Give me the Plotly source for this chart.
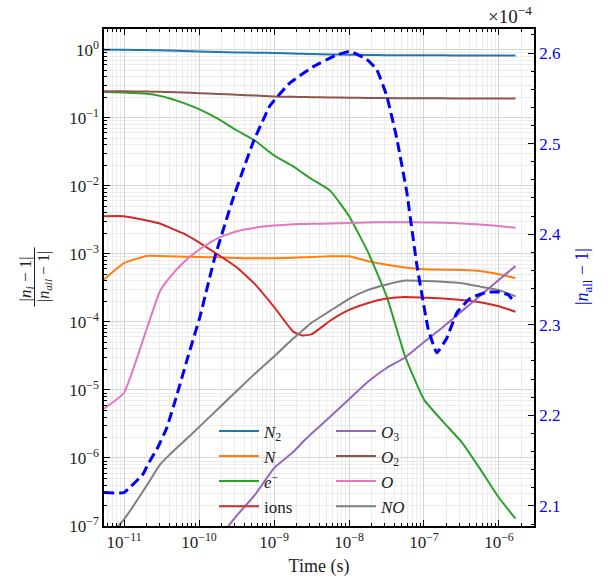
import plotly.graph_objects as go

# ---------------- data ----------------
time_s = [5.4e-12, 1.0e-11, 2.0e-11, 3.0e-11, 4.0e-11, 6.3e-11, 1.0e-10, 1.8e-10, 3.2e-10,
          5.6e-10, 1.0e-9, 1.8e-9, 2.4e-9, 3.2e-9, 5.6e-9, 1.0e-8, 1.8e-8, 3.2e-8, 5.6e-8,
          1.0e-7, 1.8e-7, 3.2e-7, 5.6e-7, 1.0e-6, 1.66e-6]

N2 = [1.0, 1.0, 0.99, 0.98, 0.975, 0.96, 0.945, 0.93, 0.915, 0.905, 0.895, 0.88, 0.872,
      0.865, 0.855, 0.845, 0.838, 0.832, 0.83, 0.828, 0.827, 0.826, 0.826, 0.826, 0.826]
N = [4.2e-4, 7.3e-4, 9.3e-4, 9.3e-4, 9.2e-4, 9.1e-4, 9.0e-4, 8.9e-4, 8.7e-4, 8.6e-4, 8.6e-4,
     8.8e-4, 8.9e-4, 9.0e-4, 9.2e-4, 9.2e-4, 7.8e-4, 6.9e-4, 6.3e-4, 5.95e-4, 5.85e-4,
     5.8e-4, 5.6e-4, 5.0e-4, 4.4e-4]
e_minus = [0.24, 0.235, 0.225, 0.21, 0.194, 0.164, 0.134, 0.096, 0.065, 0.046, 0.028, 0.0193,
           0.0155, 0.0125, 0.0085, 3.6e-3, 1.05e-3, 2.33e-4, 3.1e-5, 7.2e-6, 3.4e-6, 1.7e-6,
           6.9e-7, 2.6e-7, 1.28e-7]
ions = [3.58e-3, 3.58e-3, 3.1e-3, 2.8e-3, 2.45e-3, 1.98e-3, 1.47e-3, 9.7e-4, 6.3e-4, 3.56e-4,
        1.66e-4, 7.2e-5, 6.3e-5, 6.6e-5, 1.04e-4, 1.5e-4, 1.9e-4, 2.2e-4, 2.33e-4, 2.27e-4,
        2.2e-4, 2.1e-4, 1.95e-4, 1.7e-4, 1.41e-4]
O3 = [None, None, None, None, None, None, 2.5e-8, 6.3e-8, 1.43e-7, 2.9e-7, 7.1e-7, 1.22e-6,
      1.7e-6, 2.3e-6, 4.05e-6, 7.3e-6, 1.33e-5, 2.12e-5, 3.0e-5, 5.06e-5, 8.4e-5, 1.44e-4,
      2.43e-4, 4.17e-4, 6.6e-4]
O2 = [0.245, 0.245, 0.243, 0.241, 0.239, 0.235, 0.23, 0.224, 0.218, 0.212, 0.206, 0.203, 0.202,
      0.201, 0.199, 0.197, 0.196, 0.195, 0.194, 0.193, 0.193, 0.192, 0.192, 0.192, 0.192]
O = [5.3e-6, 9.1e-6, 7.8e-5, 2.8e-4, 4.4e-4, 7.6e-4, 1.15e-3, 1.72e-3, 2.15e-3, 2.42e-3, 2.6e-3,
     2.72e-3, 2.74e-3, 2.76e-3, 2.8e-3, 2.85e-3, 2.9e-3, 2.92e-3, 2.92e-3, 2.9e-3, 2.87e-3,
     2.8e-3, 2.7e-3, 2.56e-3, 2.42e-3]
NO = [6e-8, 1.25e-7, 3.9e-7, 7.9e-7, 1.1e-6, 1.76e-6, 2.84e-6, 5.3e-6, 9.7e-6, 1.75e-5, 3.1e-5,
      5.7e-5, 7.5e-5, 9.8e-5, 1.45e-4, 2.18e-4, 2.95e-4, 3.55e-4, 4.05e-4, 4.0e-4, 3.88e-4,
      3.7e-4, 3.3e-4, 2.93e-4, 2.38e-4]

# |n_all - 1| in units of 1e-4 (right axis)
time_nall_s = [5.41e-12, 1.0e-11, 1.79e-11, 2.09e-11, 2.84e-11, 3.71e-11, 5.05e-11, 7.2e-11,
               1.03e-10, 1.63e-10, 2.86e-10, 5.3e-10, 8.85e-10, 1.63e-9, 3.34e-9, 6.5e-9,
               1.03e-8, 1.72e-8, 2.34e-8, 3.18e-8, 4.33e-8, 5.88e-8, 8.0e-8, 1.14e-7, 1.48e-7,
               2.01e-7, 2.73e-7, 4.1e-7, 6.86e-7, 1.03e-6, 1.32e-6, 1.63e-6]
n_all_e4 = [2.1147, 2.1147, 2.135, 2.146, 2.165, 2.186, 2.222, 2.266, 2.309, 2.375, 2.44, 2.502,
            2.542, 2.567, 2.585, 2.597, 2.602, 2.593, 2.582, 2.553, 2.506, 2.447, 2.367, 2.295,
            2.269, 2.285, 2.313, 2.329, 2.336, 2.336, 2.333, 2.325]

x_tick_exp = [-11, -10, -9, -8, -7, -6]
y_tick_exp = [0, -1, -2, -3, -4, -5, -6, -7]
y2_ticks = [2.1, 2.2, 2.3, 2.4, 2.5, 2.6]

species = [
    ("<i>N</i><sub>2</sub>", N2, "#1f77b4", "legend"),
    ("<i>N</i>", N, "#ff7f0e", "legend"),
    ("<i>e</i><sup>−</sup>", e_minus, "#2ca02c", "legend"),
    ("ions", ions, "#d62728", "legend"),
    ("<i>O</i><sub>3</sub>", O3, "#9467bd", "legend2"),
    ("<i>O</i><sub>2</sub>", O2, "#8c564b", "legend2"),
    ("<i>O</i>", O, "#e377c2", "legend2"),
    ("<i>NO</i>", NO, "#7f7f7f", "legend2"),
]

FONT = "Liberation Serif, Times New Roman, serif"
TXT = "#222222"
fig = go.Figure()
for label, vals, col, lg in species:
    fig.add_trace(go.Scatter(x=time_s, y=vals, mode="lines", name=label,
                             line=dict(color=col, width=2, shape="spline", smoothing=0.4),
                             legend=lg))

fig.add_trace(go.Scatter(x=time_nall_s, y=n_all_e4, mode="lines", yaxis="y2",
                         showlegend=False,
                         line=dict(color="#0000ff", width=3, dash="10px,5px",
                                   shape="spline", smoothing=0.3)))

W, H = 613, 585
L, R, T, B = 104, 79, 29, 53
pw, ph = W - L - R, H - T - B

def px(x):
    return (x - L) / pw

def py(y):
    return (H - B - y) / ph

grid_major = "#d4d4d4"
grid_minor = "#ececec"

fig.update_layout(
    width=W, height=H,
    margin=dict(l=L, r=R, t=T, b=B),
    paper_bgcolor="white", plot_bgcolor="white",
    font=dict(family=FONT, size=17, color=TXT),
    xaxis=dict(type="log", range=[-11.267, -5.533],
               tickvals=[10.0 ** e for e in x_tick_exp],
               ticktext=["10<sup>−%d</sup>" % (-e) for e in x_tick_exp],
               showgrid=True, gridcolor=grid_major, gridwidth=1,
               ticks="inside", ticklen=6, tickwidth=1, tickcolor="black",
               showline=True, linecolor="black", linewidth=1.5, mirror="ticks",
               minor=dict(dtick="D1", ticks="inside", ticklen=3, tickcolor="black",
                          showgrid=True, gridcolor=grid_minor),
               title=dict(text="Time (s)", standoff=8, font=dict(size=18, family=FONT)),
               tickfont=dict(size=17, family=FONT), zeroline=False),
    yaxis=dict(type="log", range=[-7, 0.305],
               tickvals=[10.0 ** e for e in y_tick_exp],
               ticktext=[("10<sup>%d</sup>" % e) if e == 0 else ("10<sup>−%d</sup>" % (-e))
                         for e in y_tick_exp],
               showgrid=True, gridcolor=grid_major,
               ticks="inside", ticklen=6, tickcolor="black",
               showline=True, linecolor="black", linewidth=1.5, mirror=False,
               minor=dict(dtick="D1", ticks="inside", ticklen=3, tickcolor="black",
                          showgrid=True, gridcolor=grid_minor),
               tickfont=dict(size=17, family=FONT), zeroline=False),
    yaxis2=dict(overlaying="y", side="right", range=[2.0778, 2.6265],
                tickvals=y2_ticks, ticktext=["%.1f" % v for v in y2_ticks],
                showgrid=False, zeroline=False,
                ticks="inside", ticklen=6, tickcolor="black",
                showline=True, linecolor="black", linewidth=1.5,
                minor=dict(dtick=0.02, ticks="inside", ticklen=3, tickcolor="black"),
                tickfont=dict(size=17, color="#0000ff", family=FONT)),
    legend=dict(x=px(214), y=py(418), xanchor="left", yanchor="top",
                bgcolor="rgba(0,0,0,0)", font=dict(size=17, color=TXT, family=FONT),
                tracegroupgap=0, itemwidth=40),
    legend2=dict(x=px(331), y=py(418), xanchor="left", yanchor="top",
                 bgcolor="rgba(0,0,0,0)", font=dict(size=17, color=TXT, family=FONT),
                 tracegroupgap=0, itemwidth=40),
)

# left axis label as a rotated fraction
fig.add_annotation(x=px(26.5), y=py(282), xref="paper", yref="paper",
                   text="|<i>n<sub>i</sub></i> − 1|", textangle=-90, showarrow=False,
                   font=dict(size=17, color=TXT, family=FONT), xanchor="center", yanchor="middle")
fig.add_annotation(x=px(44), y=py(280), xref="paper", yref="paper",
                   text="|<i>n<sub>all</sub></i> − 1|", textangle=-90, showarrow=False,
                   font=dict(size=16, color=TXT, family=FONT), xanchor="center", yanchor="middle")
fig.add_shape(type="line", xref="paper", yref="paper", x0=px(34.5), x1=px(34.5),
              y0=py(250), y1=py(310), line=dict(color=TXT, width=1))

# right axis label
fig.add_annotation(x=px(583), y=py(280), xref="paper", yref="paper",
                   text="|<i>n</i><sub>all</sub> − 1|", textangle=-90, showarrow=False,
                   font=dict(size=18, color="#0000ff", family=FONT),
                   xanchor="center", yanchor="middle")
# offset text of right axis
fig.add_annotation(x=px(534), y=py(15), xref="paper", yref="paper",
                   text="×10<sup>−4</sup>", showarrow=False,
                   font=dict(size=19, color=TXT, family=FONT), xanchor="right", yanchor="middle")

fig.write_html("out.html")
